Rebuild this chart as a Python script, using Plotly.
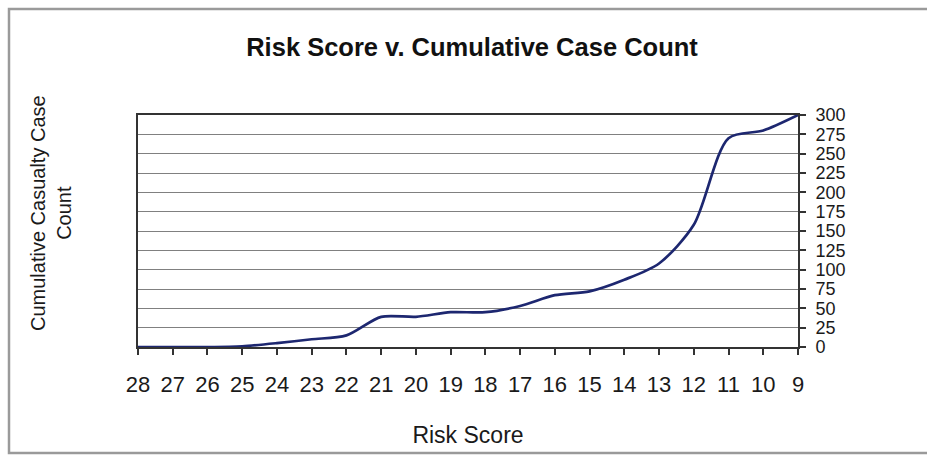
import plotly.graph_objects as go

# Risk score categories, plotted from highest to lowest score
risk_scores = ["28", "27", "26", "25", "24", "23", "22", "21", "20", "19",
               "18", "17", "16", "15", "14", "13", "12", "11", "10", "9"]
# Cumulative casualty case count at each risk score
cumulative_counts = [0, 0, 0, 1, 5, 10, 15, 39, 39, 45,
                     45, 53, 67, 72, 87, 108, 158, 270, 280, 300]
count_ticks = list(range(0, 301, 25))

FONT = "Liberation Sans, Arial, sans-serif"
W, H = 927, 455
L, R, T, B = 138, 129, 115, 108
pw, ph = W - L - R, H - T - B


def px_x(px):
    return (px - L) / pw


def px_y(py):
    return (H - B - py) / ph


fig = go.Figure(
    go.Scatter(
        x=risk_scores,
        y=cumulative_counts,
        mode="lines",
        line=dict(color="#1d2770", width=2.7, shape="spline", smoothing=0.8),
        showlegend=False,
    )
)

fig.update_layout(
    width=W,
    height=H,
    margin=dict(l=L, r=R, t=T, b=B),
    paper_bgcolor="white",
    plot_bgcolor="white",
    font=dict(family=FONT, color="#1a1a1a"),
    title=dict(
        text="<b>Risk Score v. Cumulative Case Count</b>",
        x=472 / W, xref="container", xanchor="center",
        y=1 - 47 / H, yref="container", yanchor="middle",
        font=dict(size=25.5, family=FONT, color="#111"),
    ),
    xaxis=dict(
        type="category",
        range=[0, len(risk_scores) - 1],
        showgrid=False,
        showline=True, linecolor="#333", linewidth=2, mirror=True,
        ticks="outside", ticklen=6, tickcolor="#333", tickwidth=1.5,
        tickfont=dict(size=22, family=FONT, color="#1a1a1a"),
        ticklabelstandoff=11,
        title=dict(text="Risk Score", font=dict(size=23, family=FONT, color="#1a1a1a"),
                   standoff=30),
    ),
    yaxis=dict(
        side="right",
        range=[0, 300],
        tickvals=count_ticks,
        showgrid=True, gridcolor="#808080", gridwidth=1.2,
        showline=True, linecolor="#333", linewidth=2, mirror=True,
        ticks="outside", ticklen=6, tickcolor="#333", tickwidth=1.5,
        tickfont=dict(size=18, family=FONT, color="#1a1a1a"),
        ticklabelstandoff=6,
        zeroline=False,
    ),
    annotations=[
        dict(
            text="Cumulative Casualty Case<br>Count",
            xref="paper", yref="paper",
            x=px_x(51), y=px_y(213),
            xanchor="center", yanchor="middle",
            textangle=-90, showarrow=False,
            font=dict(size=20, family=FONT, color="#1a1a1a"),
        )
    ],
    shapes=[
        dict(
            type="rect", xref="paper", yref="paper",
            x0=px_x(9), x1=px_x(960), y0=px_y(453), y1=px_y(9),
            line=dict(color="#9a9a9a", width=2.5), layer="below",
        )
    ],
)

fig.write_html("out.html")
